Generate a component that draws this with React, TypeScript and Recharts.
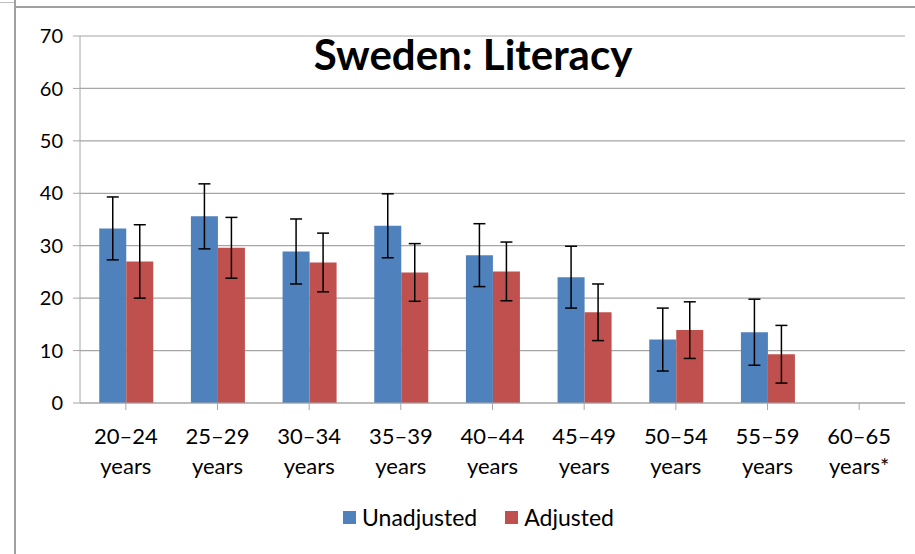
import { Bar, BarChart, CartesianGrid, ErrorBar, Legend, XAxis, YAxis } from "recharts";

const categories = ["20–24 years", "25–29 years", "30–34 years", "35–39 years", "40–44 years", "45–49 years", "50–54 years", "55–59 years", "60–65 years*"];
const unadjusted = [33.3, 35.6, 28.9, 33.8, 28.2, 24.0, 12.1, 13.5, null];
const unadjustedErr = [6.0, 6.2, 6.2, 6.1, 6.0, 5.9, 6.0, 6.3, null];
const adjusted = [27.0, 29.6, 26.8, 24.9, 25.1, 17.3, 13.9, 9.3, null];
const adjustedErr = [7.0, 5.8, 5.6, 5.5, 5.6, 5.4, 5.4, 5.5, null];
const yTicks = [0, 10, 20, 30, 40, 50, 60, 70];
const seriesNames = ["Unadjusted", "Adjusted"];
const seriesColors = ["#4F81BD", "#C0504D"];

const data = categories.map((name, i) => ({
    name,
    unadjusted: unadjusted[i],
    unadjustedErr: unadjustedErr[i],
    adjusted: adjusted[i],
    adjustedErr: adjustedErr[i],
}));

const FONT = "Lato, 'Open Sans', sans-serif";
const GRID = "#a6a6a6";

function CategoryTick({ x, y, payload }: any) {
    const [range, unit] = String(payload.value).split(" ");
    return (
        <text x={x} y={y} textAnchor="middle" fill="#000" fontSize={22} fontFamily={FONT}>
            <tspan x={x} dy={32}>{range}</tspan>
            <tspan x={x} dy={30}>{unit}</tspan>
        </text>
    );
}

// legend in the original series order
function LegendContent() {
    return (
        <div style={{ display: "flex", justifyContent: "center", alignItems: "center", gap: 28 }}>
            {seriesNames.map((name, i) => (
                <div key={name} style={{ display: "flex", alignItems: "center" }}>
                    <span style={{ display: "inline-block", width: 13, height: 13, background: seriesColors[i], marginRight: 6 }} />
                    <span style={{ fontSize: 23, color: "#000", fontFamily: FONT }}>{name}</span>
                </div>
            ))}
        </div>
    );
}

export default function App() {
    return (
        <div style={{ position: "absolute", left: 0, top: 0, width: 915, height: 554, background: "#fff", fontFamily: FONT }}>
            {/* frame lines of the original sheet */}
            <div style={{ position: "absolute", left: 14, top: 0, width: 2, height: 554, background: "#a0a0a0" }} />
            <div style={{ position: "absolute", left: 14, top: 6, width: 901, height: 2, background: "#a0a0a0" }} />
            <div style={{ position: "absolute", left: 0, top: 2, width: 14, height: 1, background: "#c0c0c0" }} />

            <BarChart
                width={915}
                height={554}
                data={data}
                margin={{ top: 36, right: 10, bottom: 51, left: 20 }}
                barCategoryGap="21%"
                barGap={0}
                style={{ position: "absolute", left: 0, top: 0 }}
            >
                <CartesianGrid vertical={false} stroke={GRID} strokeWidth={1.2} />
                <XAxis
                    dataKey="name"
                    height={100}
                    interval={0}
                    tickSize={7}
                    stroke={GRID}
                    tickLine={{ stroke: GRID }}
                    axisLine={{ stroke: GRID }}
                    tick={<CategoryTick />}
                />
                <YAxis
                    width={60}
                    domain={[0, 70]}
                    ticks={yTicks}
                    interval={0}
                    tickSize={7}
                    tickMargin={10}
                    stroke={GRID}
                    tick={{ fill: "#000", fontSize: 20, fontFamily: FONT }}
                />
                <Bar dataKey="unadjusted" name={seriesNames[0]} fill={seriesColors[0]} isAnimationActive={false}>
                    <ErrorBar dataKey="unadjustedErr" width={6} stroke="#000" strokeWidth={1.5} />
                </Bar>
                <Bar dataKey="adjusted" name={seriesNames[1]} fill={seriesColors[1]} isAnimationActive={false}>
                    <ErrorBar dataKey="adjustedErr" width={6} stroke="#000" strokeWidth={1.5} />
                </Bar>
                <Legend
                    verticalAlign="middle"
                    align="center"
                    content={<LegendContent />}
                    wrapperStyle={{ top: 503, left: 0, width: 957 }}
                />
            </BarChart>

            <div
                style={{
                    position: "absolute",
                    left: 223,
                    top: 29,
                    width: 500,
                    textAlign: "center",
                    fontSize: 42,
                    fontWeight: 700,
                    color: "#000",
                    fontFamily: FONT,
                    whiteSpace: "nowrap",
                }}
            >
                Sweden: Literacy
            </div>
        </div>
    );
}
